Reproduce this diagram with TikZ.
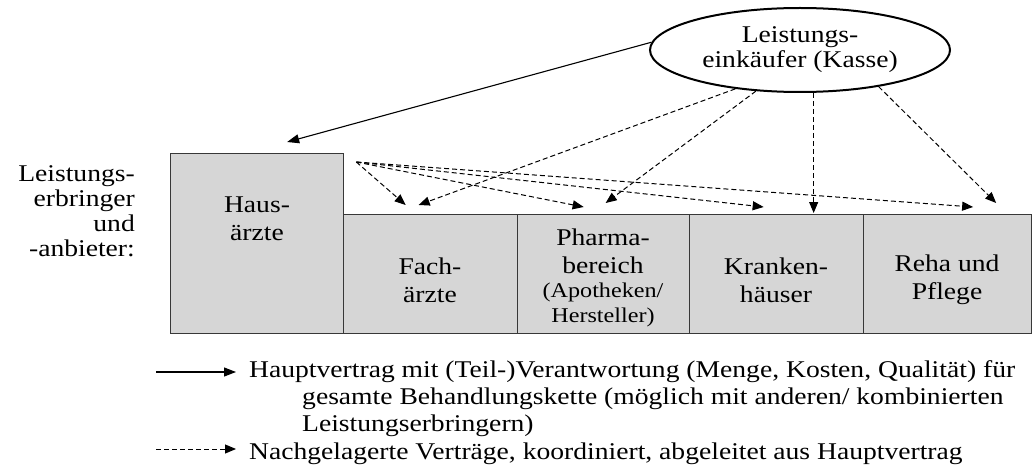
\documentclass[tikz,border=0pt]{standalone}
\usepackage{fontspec}
\setmainfont{Liberation Serif}[FakeStretch=1.15]
\usetikzlibrary{arrows.meta,calc,shapes.geometric}
\definecolor{boxgray}{HTML}{D6D6D6}
\definecolor{edgegray}{HTML}{383838}
\begin{document}
\begin{tikzpicture}[x=1pt,y=-1pt,
  every node/.style={font=\fontsize{24}{28}\selectfont, inner sep=0pt},
  pbox/.style={draw=edgegray, line width=1.3pt, fill=boxgray, anchor=north west},
  main/.style={line width=1.1pt, -{Triangle[length=12pt,width=9pt]}},
  sub/.style={line width=1pt, dash pattern=on 5pt off 3pt, -{Triangle[length=11pt,width=9pt]}},
  small/.style={font=\fontsize{21}{25}\selectfont},
  tight/.style={font=\fontsize{24}{25}\selectfont}
]
\useasboundingbox (0,0) rectangle (1033,468);
% boxes
\node[pbox, minimum width=173pt, minimum height=180pt] (haus) at (170,153) {};
\node[pbox, minimum width=174pt, minimum height=119pt] (fach) at (343,214) {};
\node[pbox, minimum width=172pt, minimum height=119pt] (pharma) at (517,214) {};
\node[pbox, minimum width=174pt, minimum height=119pt] (kranken) at (689,214) {};
\node[pbox, minimum width=168pt, minimum height=119pt] (reha) at (863,214) {};
% box texts
\node[align=center] (haust) at (257,219) {Haus-\\ärzte};
\node[align=center] (facht) at (430,280) {Fach-\\ärzte};
\node[align=center] (pharmat) at (603,251) {Pharma-\\bereich};
\node[align=center, small] (pharmas) at (603,305) {(Apotheken/\\Hersteller)};
\node[align=center] (krankent) at (776,280) {Kranken-\\häuser};
\node[align=center] (rehat) at (947,280) {Reha und\\Pflege};
% left label
\node[align=right, anchor=east, tight] (lab) at (135,211) {Leistungs-\\erbringer\\und\\-anbieter:};
% ellipse
\node[ellipse, draw, line width=2pt, minimum width=300pt, minimum height=84pt, align=center, tight] (kasse) at (800,50) {Leistungs-\\einkäufer (Kasse)};
% connectors
\coordinate (hd) at ($(haus.north east)+(12,9)$);
\draw[main] (kasse.177) -- ($(haus.north)+(30,-11)$);
\draw[sub] (hd) -- ($(fach.north)+(-25,-9)$);
\draw[sub] (hd) -- ($(pharma.north)+(-20,-7)$);
\draw[sub] (hd) -- ($(kranken.north)+(-13,-7)$);
\draw[sub] (hd) -- ($(reha.north)+(25.5,-7)$);
\draw[sub] (kasse.211) -- ($(fach.north)+(-12,-9)$);
\draw[sub] (kasse.223) -- ($(pharma.north)+(2,-11)$);
\coordinate (kt) at ($(kranken.north)+(37,-1)$);
\draw[sub] (kt |- kasse.south) -- (kt);
\draw[sub] (kasse.335) -- ($(reha.north)+(48.5,-11)$);
% legend
\coordinate (l1a) at (156,372);
\coordinate (l1b) at (236,372);
\draw[main] (l1a) -- (l1b);
\node[anchor=base west] (leg1) at (249,377) {Hauptvertrag mit (Teil-)Verantwortung (Menge, Kosten, Qualität) für};
\node[anchor=base west] (leg2) at (302,404) {gesamte Behandlungskette (möglich mit anderen/ kombinierten};
\node[anchor=base west] (leg3) at (302,431) {Leistungserbringern)};
\coordinate (l4a) at (156,449);
\coordinate (l4b) at (236,449);
\draw[sub] (l4a) -- (l4b);
\node[anchor=base west] (leg4) at (249,459) {Nachgelagerte Verträge, koordiniert, abgeleitet aus Hauptvertrag};
\end{tikzpicture}
\end{document}
